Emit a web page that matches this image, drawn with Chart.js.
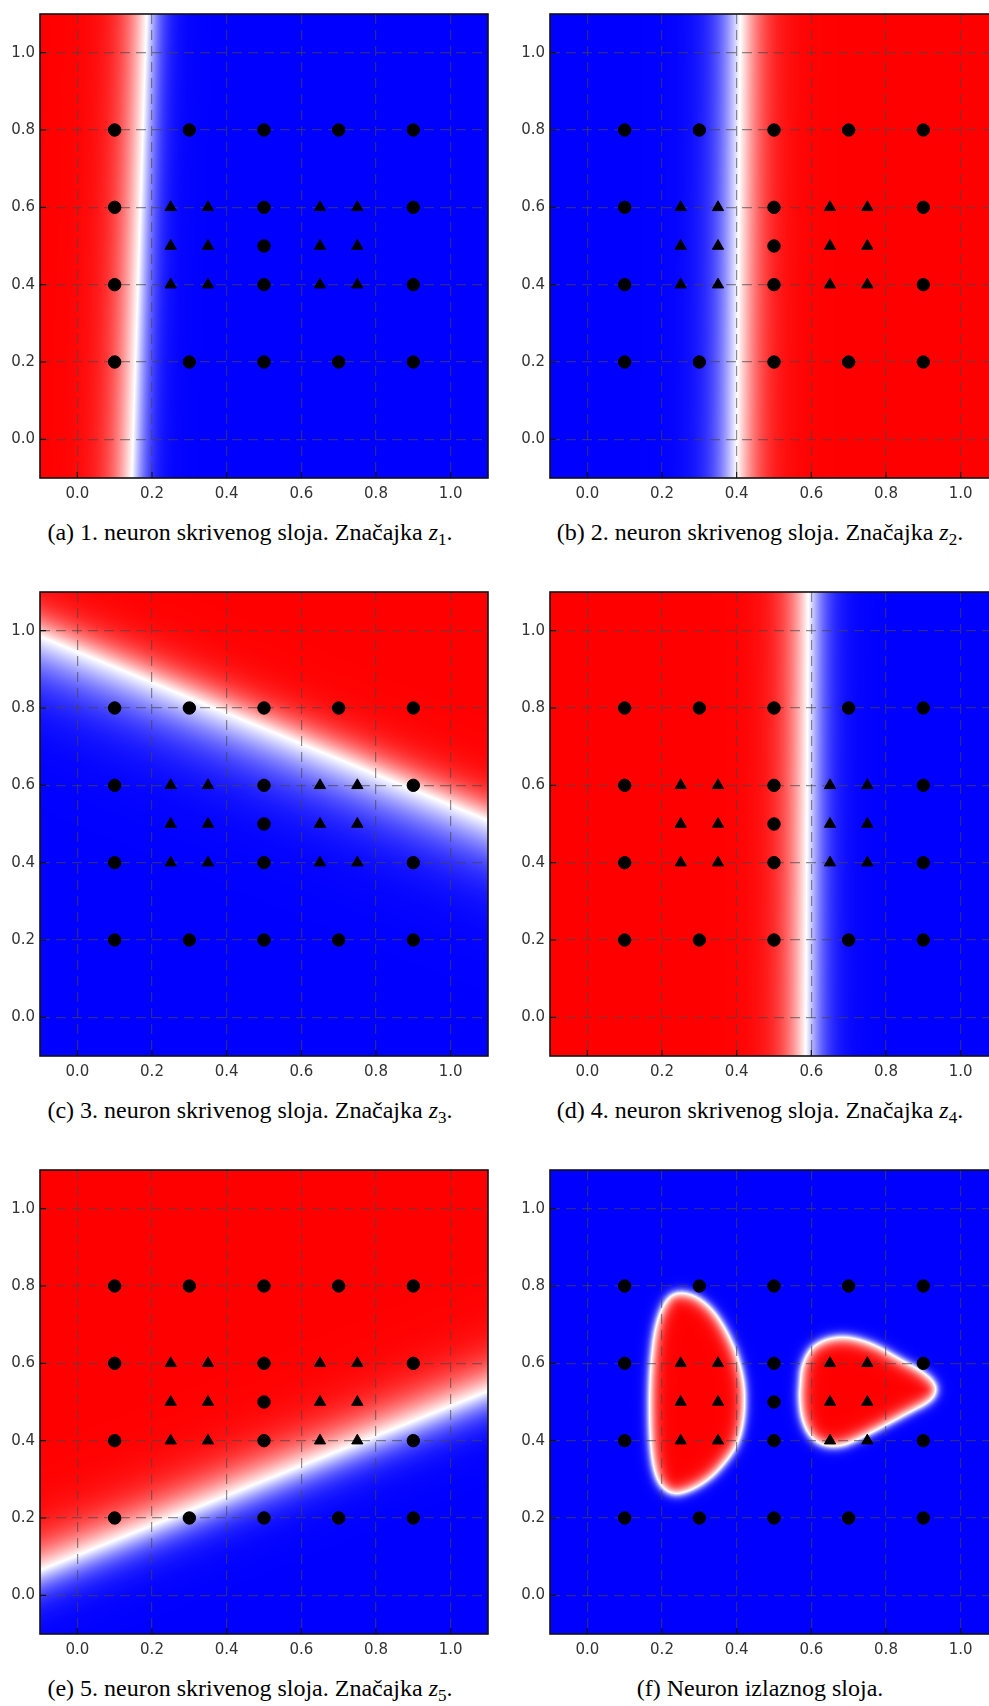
<!DOCTYPE html>
<html>
<head>
<meta charset="utf-8">
<script src="https://cdn.jsdelivr.net/npm/chart.js@4.4.0/dist/chart.umd.min.js"></script>
<style>
html, body { margin: 0; padding: 0; background: #fff; overflow: hidden; width: 989px; height: 1706px; }
.panel { position: absolute; }
.cap { position: absolute; width: 500px; text-align: center; font: 24px/24px "Liberation Serif", "Times New Roman", serif; color: #000; white-space: nowrap; }
.cap sub { font-size: 17px; line-height: 0; vertical-align: -5px; }
</style>
</head>
<body>
<script>
// sample points (same in every panel)
var circleX = [0.1, 0.1, 0.1, 0.1, 0.3, 0.3, 0.5, 0.5, 0.5, 0.5, 0.5, 0.7, 0.7, 0.9, 0.9, 0.9, 0.9];
var circleY = [0.2, 0.4, 0.6, 0.8, 0.2, 0.8, 0.2, 0.4, 0.5, 0.6, 0.8, 0.2, 0.8, 0.2, 0.4, 0.6, 0.8];
var triangleX = [0.25, 0.35, 0.65, 0.75, 0.25, 0.35, 0.65, 0.75, 0.25, 0.35, 0.65, 0.75];
var triangleY = [0.4, 0.4, 0.4, 0.4, 0.5, 0.5, 0.5, 0.5, 0.6, 0.6, 0.6, 0.6];

var tickValues = [0.0, 0.2, 0.4, 0.6, 0.8, 1.0];
var axisMin = -0.1, axisMax = 1.1;

// hidden neurons: white (zero) line ends, a point on the red side, spread of each side
var lineStart = [[0.146, -0.1], [0.400, -0.1], [-0.1, 0.985], [0.585, -0.1], [-0.1, 0.065]];
var lineEnd   = [[0.186, 1.1], [0.410, 1.1], [1.1, 0.509], [0.592, 1.1], [1.1, 0.528]];
var redPoint  = [[-0.1, 0.5], [1.1, 0.5], [1.1, 1.1], [-0.1, 0.5], [-0.1, 1.1]];
var redSpread  = [0.075, 0.075, 0.07, 0.075, 0.085];
var blueSpread = [0.05, 0.075, 0.12, 0.06, 0.065];

// output neuron: white contour of the two red regions
var blobLeft = [[0.235, 0.784], [0.204, 0.755], [0.181, 0.691], [0.170, 0.601], [0.166, 0.510],
  [0.168, 0.401], [0.177, 0.328], [0.195, 0.283], [0.230, 0.260], [0.275, 0.270], [0.329, 0.301],
  [0.373, 0.347], [0.404, 0.392], [0.420, 0.456], [0.422, 0.528], [0.413, 0.583], [0.396, 0.637],
  [0.364, 0.700], [0.329, 0.746], [0.284, 0.778]];
var blobRight = [[0.570, 0.546], [0.574, 0.592], [0.596, 0.637], [0.632, 0.660], [0.677, 0.669],
  [0.721, 0.664], [0.775, 0.646], [0.838, 0.610], [0.891, 0.583], [0.927, 0.555], [0.936, 0.528],
  [0.918, 0.501], [0.864, 0.474], [0.793, 0.437], [0.721, 0.401], [0.677, 0.385], [0.632, 0.387],
  [0.596, 0.410], [0.574, 0.456], [0.568, 0.510]];
var blobSpreadIn = 0.022, blobSpreadOut = 0.014;

var captionLabels = [
  '(a) 1. neuron skrivenog sloja. Značajka <i>z</i><sub>1</sub>.',
  '(b) 2. neuron skrivenog sloja. Značajka <i>z</i><sub>2</sub>.',
  '(c) 3. neuron skrivenog sloja. Značajka <i>z</i><sub>3</sub>.',
  '(d) 4. neuron skrivenog sloja. Značajka <i>z</i><sub>4</sub>.',
  '(e) 5. neuron skrivenog sloja. Značajka <i>z</i><sub>5</sub>.',
  '(f) Neuron izlaznog sloja.'
];

var colLeft = [40, 550];
var rowTop = [9, 587, 1165];
var plotW = 448, plotH = 469;

function bwr(v) {
  if (v >= 0) { var t = Math.round(255 * (1 - v)); return [255, t, t]; }
  var s = Math.round(255 * (1 + v));
  return [s, s, 255];
}

function lineField(i) {
  var x1 = lineStart[i][0], y1 = lineStart[i][1];
  var dx = lineEnd[i][0] - x1, dy = lineEnd[i][1] - y1, len = Math.hypot(dx, dy);
  var nx = -dy / len, ny = dx / len;
  var sgn = Math.sign((redPoint[i][0] - x1) * nx + (redPoint[i][1] - y1) * ny);
  return function (x, y) {
    var d = sgn * ((x - x1) * nx + (y - y1) * ny);
    return d >= 0 ? Math.tanh(d / redSpread[i]) : Math.tanh(d / blueSpread[i]);
  };
}

// rounds the corners of a closed outline (Chaikin)
function smooth(poly, n) {
  for (var r = 0; r < n; r++) {
    var out = [];
    for (var i = 0; i < poly.length; i++) {
      var a = poly[i], b = poly[(i + 1) % poly.length];
      out.push([0.75 * a[0] + 0.25 * b[0], 0.75 * a[1] + 0.25 * b[1]]);
      out.push([0.25 * a[0] + 0.75 * b[0], 0.25 * a[1] + 0.75 * b[1]]);
    }
    poly = out;
  }
  return poly;
}

function polyDist(poly, x, y) {
  var inside = false, best = Infinity;
  for (var i = 0, j = poly.length - 1; i < poly.length; j = i++) {
    var xi = poly[i][0], yi = poly[i][1], xj = poly[j][0], yj = poly[j][1];
    if ((yi > y) !== (yj > y) && x < (xj - xi) * (y - yi) / (yj - yi) + xi) inside = !inside;
    var ex = xj - xi, ey = yj - yi;
    var t = ((x - xi) * ex + (y - yi) * ey) / (ex * ex + ey * ey);
    t = Math.max(0, Math.min(1, t));
    var d = Math.hypot(x - xi - t * ex, y - yi - t * ey);
    if (d < best) best = d;
  }
  return inside ? best : -best;
}

var smoothLeft = smooth(blobLeft, 2), smoothRight = smooth(blobRight, 2);

function outputField(x, y) {
  var d = Math.max(polyDist(smoothLeft, x, y), polyDist(smoothRight, x, y));
  return d >= 0 ? Math.tanh(d / blobSpreadIn) : Math.tanh(d / blobSpreadOut);
}

var fields = [lineField(0), lineField(1), lineField(2), lineField(3), lineField(4), outputField];

var heatmap = {
  id: 'heatmap',
  beforeDraw: function (chart, args, opts) {
    var a = chart.chartArea, xs = chart.scales.x, ys = chart.scales.y;
    var w = Math.round(a.right - a.left), h = Math.round(a.bottom - a.top);
    if (!chart.$heat) {
      var f = fields[opts.panel];
      var img = chart.ctx.createImageData(w, h);
      for (var j = 0; j < h; j++) {
        var y = ys.getValueForPixel(a.top + j + 0.5);
        for (var i = 0; i < w; i++) {
          var x = xs.getValueForPixel(a.left + i + 0.5);
          var c = bwr(f(x, y));
          var k = (j * w + i) * 4;
          img.data[k] = c[0]; img.data[k + 1] = c[1]; img.data[k + 2] = c[2]; img.data[k + 3] = 255;
        }
      }
      chart.$heat = img;
    }
    chart.ctx.putImageData(chart.$heat, Math.round(a.left), Math.round(a.top));
  },
  afterDraw: function (chart) {
    var ctx = chart.ctx, a = chart.chartArea;
    ctx.save();
    ctx.strokeStyle = '#111';
    ctx.lineWidth = 1.2;
    ctx.beginPath();
    tickValues.forEach(function (v) {
      var px = chart.scales.x.getPixelForValue(v), py = chart.scales.y.getPixelForValue(v);
      ctx.moveTo(px, a.bottom); ctx.lineTo(px, a.bottom - 6);
      ctx.moveTo(a.left, py); ctx.lineTo(a.left + 6, py);
    });
    ctx.stroke();
    ctx.lineWidth = 1.6;
    ctx.strokeRect(a.left, a.top, a.right - a.left, a.bottom - a.top);
    ctx.restore();
  }
};

function axis(isX) {
  return {
    type: 'linear',
    min: axisMin,
    max: axisMax,
    afterBuildTicks: function (s) { s.ticks = tickValues.map(function (v) { return { value: v }; }); },
    afterFit: function (s) { if (isX) s.height = 32; else s.width = 40; },
    grid: { color: 'rgba(70,70,70,0.6)', lineWidth: 1.2, drawTicks: false },
    border: { display: false, dash: [10, 6] },
    ticks: {
      color: '#333',
      padding: isX ? 7 : 5,
      font: { family: 'DejaVu Sans', size: 15 },
      callback: function (v) { return v.toFixed(1); }
    }
  };
}

for (var p = 0; p < 6; p++) {
  var col = p % 2, row = Math.floor(p / 2);
  var box = document.createElement('div');
  box.className = 'panel';
  box.style.left = (colLeft[col] - 40) + 'px';
  box.style.top = (rowTop[row] - 9) + 'px';
  var cv = document.createElement('canvas');
  cv.width = 40 + plotW + 8;
  cv.height = 9 + plotH + 32;
  box.appendChild(cv);
  document.body.appendChild(box);

  var cap = document.createElement('div');
  cap.className = 'cap';
  cap.style.left = (col === 0 ? 0 : 510) + 'px';
  cap.style.top = (rowTop[row] + plotH + 42) + 'px';
  cap.innerHTML = captionLabels[p];
  document.body.appendChild(cap);

  new Chart(cv, {
    type: 'scatter',
    data: {
      datasets: [
        {
          label: 'kružići',
          data: circleX.map(function (x, i) { return { x: x, y: circleY[i] }; }),
          pointStyle: 'circle',
          pointRadius: 6.2,
          backgroundColor: '#000',
          borderColor: '#000',
          borderWidth: 1
        }, {
          label: 'trokuti',
          data: triangleX.map(function (x, i) { return { x: x, y: triangleY[i] }; }),
          pointStyle: 'triangle',
          pointRadius: 6.5,
          backgroundColor: '#000',
          borderColor: '#000',
          borderWidth: 1
        }
      ]
    },
    options: {
      responsive: false,
      animation: false,
      events: [],
      layout: { padding: { top: 9, right: 8, left: 0, bottom: 0 } },
      scales: { x: axis(true), y: axis(false) },
      plugins: { legend: { display: false }, tooltip: { enabled: false }, heatmap: { panel: p } }
    },
    plugins: [heatmap]
  });
}
</script>
</body>
</html>
